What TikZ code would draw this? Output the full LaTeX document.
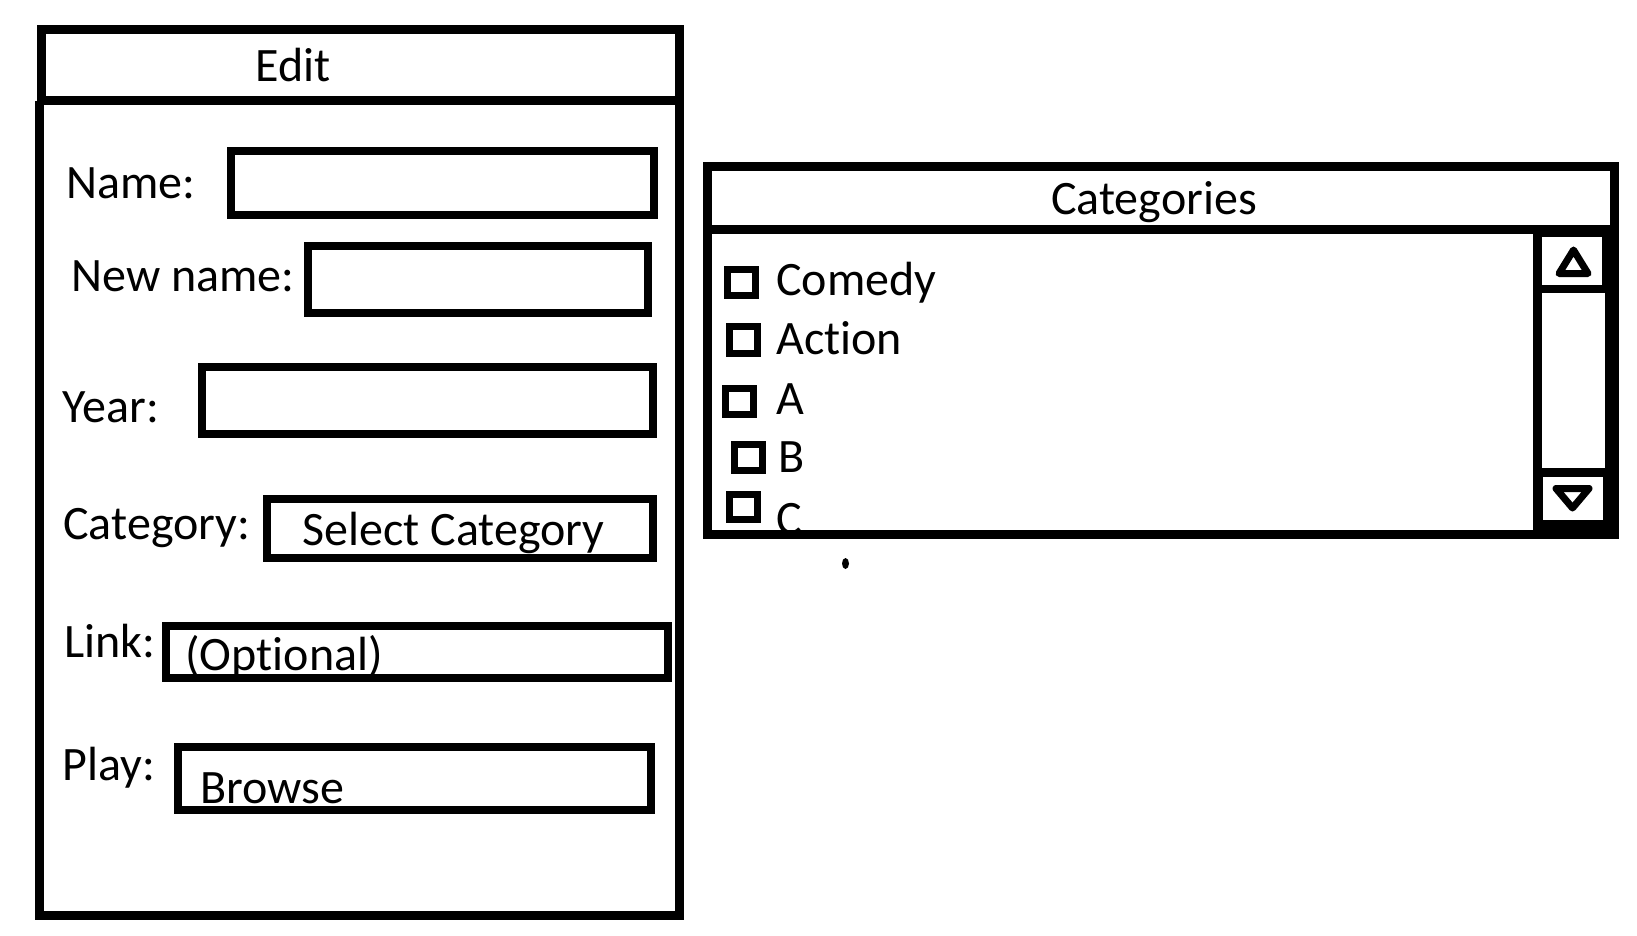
\documentclass[tikz,border=0pt]{standalone}
\usepackage{fontspec}
\setmainfont{Carlito}[RawFeature={-liga;-clig;-calt;-dlig}]
\begin{document}
\begin{tikzpicture}[x=0.5pt,y=-0.5pt,
  panel/.style={draw=black,line width=4.5pt},
  field/.style={draw=black,line width=4pt},
  chk/.style={draw=black,line width=3.5pt},
  arrowtri/.style={draw=black,line width=3.5pt,line join=round},
  lbl/.style={anchor=base west,inner sep=0pt,font=\fontsize{24}{28}\selectfont},
  ttl/.style={anchor=base,inner sep=0pt,font=\fontsize{24}{28}\selectfont}]
\useasboundingbox[fill=white] (0,0) rectangle (1637,936);

% ---------- Edit panel ----------
\node[lbl] (edit) at (255,82) {Edit};
\node[lbl] (name) at (66,199) {Name:};
\node[lbl] (newname) at (71,292) {New name:};
\node[lbl] (year) at (62,422) {Year:};
\node[lbl] (category) at (63,539) {Category:};
\node[lbl] (select) at (302,545) {Select Category};
\node[lbl] (link) at (64,657) {Link:};
\node[lbl] (optional) at (185,670) {(Opt\kern0pt ional)};
\node[lbl] (play) at (62,780) {Play:};
\node[lbl] (browse) at (200,803) {Browse};

\draw[panel] (41,29.5) rectangle (679.5,101);
\draw[panel] (39,101) -- (39,915) -- (679,915) -- (679,101);

\draw[field] (231,151) rectangle (654,215);
\draw[field] (308,246) rectangle (648,313);
\draw[field] (202,367) rectangle (653,434);
\draw[field] (267,499) rectangle (653,558);
\draw[field] (166,626) rectangle (668,678);
\draw[field] (178,747) rectangle (651,810);

% ---------- Categories panel ----------
\node[ttl] (cats) at (1154,214) {Categories};
\node[lbl] (comedy) at (776,295) {Comedy};
\node[lbl] (action) at (776,354) {Act\kern0pt ion};
\node[lbl] (itema) at (776,414) {A};
\node[lbl] (itemb) at (778,472) {B};
\node[lbl] (itemc) at (776,534) {C};

\draw[chk] (727.5,269.5) rectangle (755.5,295.5);
\draw[chk] (729.5,326.5) rectangle (757.5,353.5);
\draw[chk] (725.5,388.5) rectangle (753.5,414.5);
\draw[chk] (734.5,444.5) rectangle (762.5,470.5);
\draw[chk] (729.5,494.5) rectangle (757.5,519.5);

% scrollbar
\fill[black] (1533,230) rectangle (1619,539);
\fill[white] (1542,237) rectangle (1602,285);
\fill[white] (1542,293) rectangle (1605,468);
\fill[white] (1543,477) rectangle (1603,520);
\draw[arrowtri] (1573.5,250) -- (1559,273.5) -- (1588,273.5) -- cycle;
\draw[arrowtri] (1556,488.5) -- (1589,488.5) -- (1572.5,508) -- cycle;

\draw[panel] (707.5,167) rectangle (1614.5,534.5);
\draw[panel] (707.5,230) -- (1614.5,230);

% stray dot
\fill[black] (845.5,563.5) ellipse [x radius=3.5, y radius=5.5];
\end{tikzpicture}
\end{document}
